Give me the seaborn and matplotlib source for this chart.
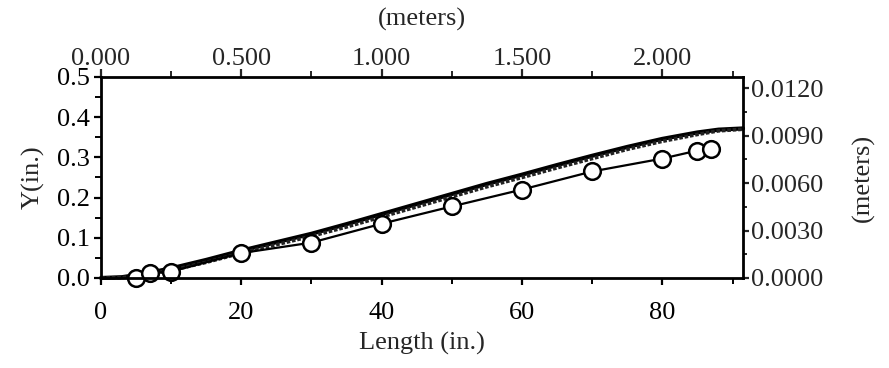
import matplotlib
matplotlib.use("Agg")
import matplotlib.pyplot as plt
import seaborn as sns
import pandas as pd
from matplotlib.ticker import MultipleLocator, FormatStrFormatter

# Data
band_x = [0, 3, 6, 10, 15, 20, 25, 30, 35, 40, 45, 50, 55, 60, 65, 70, 75, 80, 85, 88, 91.5]
band_upper = [0.0, 0.002, 0.010, 0.024, 0.045, 0.068, 0.089, 0.110, 0.134, 0.159, 0.184,
              0.209, 0.234, 0.257, 0.281, 0.304, 0.326, 0.346, 0.362, 0.369, 0.372]
band_lower = [0.0, 0.001, 0.007, 0.019, 0.039, 0.062, 0.083, 0.104, 0.127, 0.152, 0.177,
              0.202, 0.227, 0.250, 0.274, 0.297, 0.320, 0.340, 0.357, 0.366, 0.370]

circ_x = [5, 7, 10, 20, 30, 40, 50, 60, 70, 80, 85, 87]
circ_y = [0.0, 0.012, 0.016, 0.062, 0.088, 0.135, 0.178, 0.220, 0.265, 0.297, 0.317, 0.322]

top_ticks_m = [0.0, 0.5, 1.0, 1.5, 2.0]
top_labels = ["0.000", "0.500", "1.000", "1.500", "2.000"]
right_ticks_m = [0.0, 0.003, 0.006, 0.009, 0.012]
in_to_m_top = 0.025   # top scale as drawn: 20 in -> 0.500
in_to_m = 0.0254

sns.set_style("ticks")
plt.rcParams['font.family'] = ['Liberation Serif', 'DejaVu Serif']
FS = 19

fig = plt.figure(figsize=(8.89, 3.68), dpi=100)
ax = fig.add_axes([0.1136, 0.2446, 0.7222, 0.5462])

band_df = pd.DataFrame({'x': band_x, 'upper': band_upper, 'lower': band_lower})
circ_df = pd.DataFrame({'x': circ_x, 'y': circ_y})

sns.lineplot(data=band_df, x='x', y='upper', ax=ax, color='black', linewidth=3.0,
             sort=False, clip_on=False)
sns.lineplot(data=band_df, x='x', y='lower', ax=ax, color='#222222', linewidth=2.6,
             linestyle=(0, (1, 0.5)), sort=False, clip_on=False)
sns.lineplot(data=circ_df, x='x', y='y', ax=ax, color='black', linewidth=1.6,
             marker='o', markersize=12, markerfacecolor='white',
             markeredgecolor='black', markeredgewidth=1.8, sort=False, clip_on=False)

ax.set_xlim(0, 91.5)
ax.set_ylim(0, 0.5)
ax.xaxis.set_major_locator(MultipleLocator(20))
ax.xaxis.set_minor_locator(MultipleLocator(10))
ax.yaxis.set_major_locator(MultipleLocator(0.1))
ax.yaxis.set_minor_locator(MultipleLocator(0.05))
ax.yaxis.set_major_formatter(FormatStrFormatter('%.1f'))
ax.set_xlabel('Length (in.)', fontsize=FS, labelpad=6)
ax.set_ylabel('Y(in.)', fontsize=FS, labelpad=9)

for sp in ax.spines.values():
    sp.set_linewidth(2)
    sp.set_color('black')
ax.tick_params(which='major', direction='out', length=5, width=1.6, colors='black',
               labelsize=FS, pad=3)
ax.tick_params(axis='x', which='major', pad=12)
ax.tick_params(which='minor', direction='out', length=4, width=1.4, colors='black')

# top axis in meters
top = ax.secondary_xaxis('top', functions=(lambda v: v * in_to_m_top, lambda v: v / in_to_m_top))
top.set_xticks(top_ticks_m)
top.set_xticklabels(top_labels)
top.xaxis.set_minor_locator(MultipleLocator(0.25))
top.tick_params(which='major', direction='out', length=6, width=1.6, labelsize=FS, pad=-1)
top.tick_params(which='minor', direction='out', length=4, width=1.4)
top.set_xlabel('(meters)', fontsize=FS, labelpad=16)

# right axis in meters
right = ax.secondary_yaxis('right', functions=(lambda v: v * in_to_m, lambda v: v / in_to_m))
right.set_yticks(right_ticks_m)
right.yaxis.set_major_formatter(FormatStrFormatter('%.4f'))
right.yaxis.set_minor_locator(MultipleLocator(0.0015))
right.tick_params(which='major', direction='out', length=4, width=1.6, labelsize=FS, pad=2)
right.tick_params(which='minor', direction='out', length=3, width=1.4)
right.set_ylabel('(meters)', fontsize=FS, rotation=90, labelpad=20)

fig.savefig('out.png', dpi=100)
